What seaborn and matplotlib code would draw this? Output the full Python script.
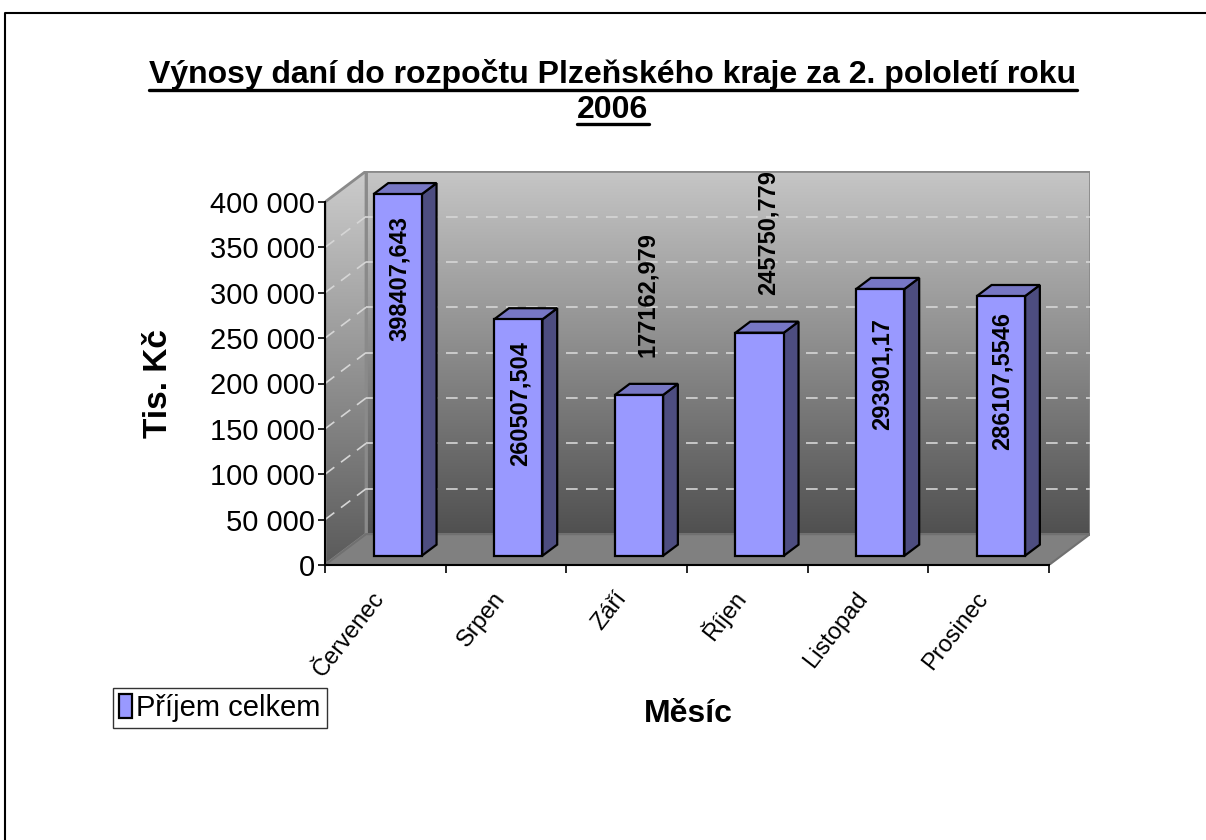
import numpy as np
import matplotlib
matplotlib.use("Agg")
import matplotlib.pyplot as plt
from matplotlib.patches import Polygon
from matplotlib.lines import Line2D
from matplotlib.colors import LinearSegmentedColormap
from matplotlib.ticker import FuncFormatter, FixedLocator
import seaborn as sns

# data
mesice = ["Červenec", "Srpen", "Září", "Říjen", "Listopad", "Prosinec"]
prijem = [398407.643, 260507.504, 177162.979, 245750.779, 293901.17, 286107.5546]
popisky = ["398407,643", "260507,504", "177162,979", "245750,779", "293901,17", "286107,5546"]
yticks = [0, 50000, 100000, 150000, 200000, 250000, 300000, 350000, 400000]

sns.set_theme(style="white")
plt.rcParams["font.family"] = ["Liberation Sans", "DejaVu Sans"]
plt.rcParams["text.color"] = "black"
plt.rcParams["axes.labelcolor"] = "black"
plt.rcParams["xtick.color"] = "black"
plt.rcParams["ytick.color"] = "black"

W, H = 1206, 840
fig = plt.figure(figsize=(W / 100, H / 100), dpi=100)

# 3D hloubka (v jednotkach dat)
DX, DY = 0.34, 34000
YMAX = 400000
d0, d1 = 0.30, 0.66   # predni a zadni stena sloupcu
sirka = 0.4

x_left, x_right = 325, 1090
y_bot, y_top = 565, 565 - (YMAX + DY) * 363 / YMAX
ax = fig.add_axes([x_left / W, 1 - y_bot / H, (x_right - x_left) / W, (y_bot - y_top) / H])
ax.set_xlim(-0.5, 5.5 + DX)
ax.set_ylim(0, YMAX + DY)
ax.set_facecolor("none")

# steny - prechod sedi
cmap = LinearSegmentedColormap.from_list("stena", ["#505050", "#c6c6c6"])
grad = np.linspace(0, 1, 256).reshape(-1, 1)

zadni = Polygon([(-0.5 + DX, DY), (5.5 + DX, DY), (5.5 + DX, YMAX + DY), (-0.5 + DX, YMAX + DY)],
                closed=True, facecolor="none", edgecolor="#8a8a8a", lw=2, zorder=1.2)
ax.add_patch(zadni)
im = ax.imshow(grad, cmap=cmap, origin="lower", aspect="auto",
               extent=(-0.5 + DX, 5.5 + DX, DY, YMAX + DY), zorder=1)
im.set_clip_path(zadni)

bocni = Polygon([(-0.5, 0), (-0.5 + DX, DY), (-0.5 + DX, YMAX + DY), (-0.5, YMAX)],
                closed=True, facecolor="none", edgecolor="#8a8a8a", lw=2, zorder=1.2)
ax.add_patch(bocni)
im2 = ax.imshow(grad, cmap=LinearSegmentedColormap.from_list("bok", ["#5a5a5a", "#cccccc"]),
                origin="lower", aspect="auto", extent=(-0.5, -0.5 + DX, 0, YMAX + DY), zorder=1)
im2.set_clip_path(bocni)

podlaha = Polygon([(-0.5, 0), (5.5, 0), (5.5 + DX, DY), (-0.5 + DX, DY)],
                  closed=True, facecolor="#808080", edgecolor="#707070", lw=1.5, zorder=1.3)
ax.add_patch(podlaha)

# mrizka
for v in yticks[1:-1]:
    ax.plot([-0.5 + DX, 5.5 + DX], [v + DY, v + DY], color="#d6d6d6", lw=1.2,
            dashes=(7, 5), zorder=1.5)
    ax.plot([-0.5, -0.5 + DX], [v, v + DY], color="#d6d6d6", lw=1.2,
            dashes=(7, 5), zorder=1.5)

# sloupce - predni strana
sns.barplot(x=mesice, y=prijem, width=sirka, color="#9999ff", saturation=1,
            edgecolor="black", linewidth=1.6, bottom=d0 * DY, label="Příjem celkem",
            ax=ax, zorder=3)
for p in ax.containers[0].patches:
    p.set_x(p.get_x() + d0 * DX)

ddx, ddy = (d1 - d0) * DX, (d1 - d0) * DY
for i, v in enumerate(prijem):
    x0 = i - sirka / 2 + d0 * DX
    x1 = x0 + sirka
    yb = d0 * DY
    yt = v + d0 * DY
    bok = Polygon([(x1, yb), (x1 + ddx, yb + ddy), (x1 + ddx, yt + ddy), (x1, yt)],
                  closed=True, facecolor="#4d4d80", edgecolor="black", lw=1.6, zorder=2.9)
    vrch = Polygon([(x0, yt), (x1, yt), (x1 + ddx, yt + ddy), (x0 + ddx, yt + ddy)],
                   closed=True, facecolor="#7777c4", edgecolor="black", lw=1.6, zorder=2.9)
    ax.add_patch(bok)
    ax.add_patch(vrch)
    xc = i + d0 * DX
    if v > 250000:
        ax.annotate(popisky[i], (xc, yt), xytext=(1, -61), textcoords="offset points",
                    rotation=90, ha="center", va="center", fontsize=17,
                    fontweight="bold", color="black", zorder=5)
    else:
        ax.annotate(popisky[i], (xc, yt), xytext=(6, 72), textcoords="offset points",
                    rotation=90, ha="center", va="center", fontsize=17,
                    fontweight="bold", color="black", zorder=5)

ax.set_xlim(-0.5, 5.5 + DX)
ax.set_ylim(0, YMAX + DY)

# osy
for s in ["top", "right"]:
    ax.spines[s].set_visible(False)
ax.spines["left"].set_bounds(0, YMAX)
ax.spines["bottom"].set_bounds(-0.5, 5.5)
for s in ["left", "bottom"]:
    ax.spines[s].set_color("black")
    ax.spines[s].set_linewidth(1.5)
    ax.spines[s].set_zorder(4)

ax.yaxis.set_major_locator(FixedLocator(yticks))
ax.yaxis.set_major_formatter(FuncFormatter(lambda v, pos: f"{int(v):,}".replace(",", " ")))
ax.tick_params(axis="y", direction="out", length=5, width=1.2, color="black",
               labelsize=21, pad=2, left=True, labelcolor="black")

ax.xaxis.set_major_locator(FixedLocator(np.arange(-0.5, 6.0, 1.0)))
ax.xaxis.set_minor_locator(FixedLocator(np.arange(len(mesice))))
ax.set_xticklabels([])
ax.set_xticklabels(mesice, minor=True, rotation=52, ha="right", va="baseline",
                   rotation_mode="anchor", fontsize=17, color="black")
ax.tick_params(axis="x", which="major", direction="out", length=6, width=1.2,
               color="black", bottom=True)
ax.tick_params(axis="x", which="minor", length=0, pad=24)

ax.set_ylabel("Tis. Kč", fontsize=24, fontweight="bold", color="black")
ax.yaxis.set_label_coords((174 - x_left) / (x_right - x_left), (y_bot - 383) / (y_bot - y_top))
ax.set_xlabel("Měsíc", fontsize=23, fontweight="bold", color="black")
ax.xaxis.set_label_coords((688 - x_left) / (x_right - x_left), (y_bot - 699) / (y_bot - y_top))

# legenda
leg = ax.legend(loc="upper left", bbox_to_anchor=(113 / W, 1 - 688 / H),
                bbox_transform=fig.transFigure, fontsize=21, frameon=True,
                fancybox=False, borderaxespad=0, handlelength=0.45, handleheight=0.9,
                handletextpad=0.15, borderpad=0.2)
leg.get_frame().set_edgecolor("black")
leg.get_frame().set_linewidth(1.0)
for t in leg.get_texts():
    t.set_color("black")

# titulek s podtrzenim
t1 = fig.text(613 / W, 1 - 75 / H, "Výnosy daní do rozpočtu Plzeňského kraje za 2. pololetí roku",
              ha="center", va="center", fontsize=23, fontweight="bold", color="black")
t2 = fig.text(613 / W, 1 - 110 / H, "2006", ha="center", va="center",
              fontsize=23, fontweight="bold", color="black")
fig.canvas.draw()
r = fig.canvas.get_renderer()
for t in (t1, t2):
    bb = t.get_window_extent(renderer=r).transformed(fig.transFigure.inverted())
    fig.add_artist(Line2D([bb.x0, bb.x1], [bb.y0 + 0.001, bb.y0 + 0.001],
                          color="black", lw=2.4, transform=fig.transFigure))

# ramecek
fig.add_artist(Line2D([5 / W, 5 / W, 1.0], [0.0, 1 - 13 / H, 1 - 13 / H],
                      color="black", lw=1.5, transform=fig.transFigure))

fig.savefig("out.png", dpi=100)
